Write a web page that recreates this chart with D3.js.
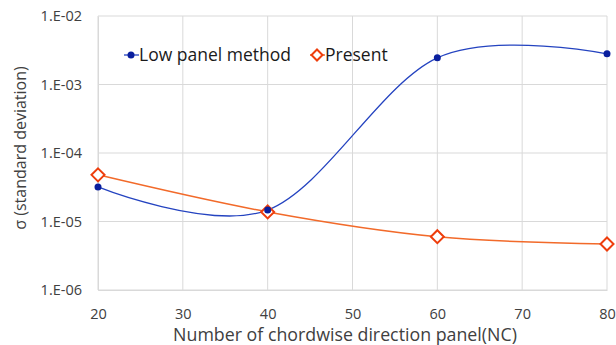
<!DOCTYPE html>
<html>
<head>
<meta charset="utf-8">
<script src="https://cdn.jsdelivr.net/npm/d3@7"></script>
<style>
  html, body { margin: 0; padding: 0; background: #fff; }
  svg { display: block; font-family: "Open Sans", "Noto Sans", sans-serif; }
</style>
</head>
<body>
<svg id="chart" width="616" height="345"></svg>
<script>
// Panel counts along the chord
const panels = [20, 40, 60, 80];
// Standard deviation for each method
const lowPanel = [3.2e-5, 1.47e-5, 2.45e-3, 2.8e-3];
const present = [4.8e-5, 1.38e-5, 6.0e-6, 4.7e-6];
const xTicks = [20, 30, 40, 50, 60, 70, 80];
const yTicks = [1e-6, 1e-5, 1e-4, 1e-3, 1e-2];
const yTickLabels = ["1.E-06", "1.E-05", "1.E-04", "1.E-03", "1.E-02"];

const svg = d3.select("#chart");
const m = { left: 98, right: 607, top: 16, bottom: 290 };

const x = d3.scaleLinear().domain([20, 80]).range([m.left, m.right]);
const y = d3.scaleLog().domain([1e-6, 1e-2]).range([m.bottom, m.top]);

// grid
svg.append("g").selectAll("line.h").data(yTicks).join("line")
  .attr("x1", m.left).attr("x2", m.right)
  .attr("y1", d => y(d)).attr("y2", d => y(d))
  .attr("stroke", "#d9d9d9").attr("stroke-width", 1);
svg.append("g").selectAll("line.v").data(xTicks).join("line")
  .attr("x1", d => x(d)).attr("x2", d => x(d))
  .attr("y1", m.top).attr("y2", m.bottom)
  .attr("stroke", "#d9d9d9").attr("stroke-width", 1);

// axes
const xAxis = svg.append("g").attr("transform", `translate(0,${m.bottom})`)
  .call(d3.axisBottom(x).tickValues(xTicks).tickSize(0).tickPadding(19));
xAxis.select(".domain").attr("stroke", "#d9d9d9");
xAxis.selectAll("text").attr("font-size", 14.5).attr("fill", "#404040")
  .attr("font-family", "Open Sans");

const yAxis = svg.append("g").attr("transform", `translate(${m.left},0)`)
  .call(d3.axisLeft(y).tickValues(yTicks).tickSize(0).tickPadding(16)
    .tickFormat((d, i) => yTickLabels[i]));
yAxis.select(".domain").attr("stroke", "#d9d9d9");
yAxis.selectAll("text").attr("font-size", 14.5).attr("fill", "#404040")
  .attr("font-family", "Open Sans");

// axis titles
svg.append("text").attr("x", 345).attr("y", 341)
  .attr("text-anchor", "middle").attr("font-size", 17.8).attr("fill", "#404040")
  .text("Number of chordwise direction panel(NC)");
svg.append("text").attr("transform", `translate(26,148) rotate(-90)`)
  .attr("text-anchor", "middle").attr("font-size", 16).attr("fill", "#404040")
  .text("σ (standard deviation)");

const line = d3.line().x(d => x(d[0])).y(d => y(d[1])).curve(d3.curveCardinal.tension(0));

const blueLine = "#2443c0", blueMark = "#0a1f9e";
const orange = "#ee3d0c";

const lowData = panels.map((p, i) => [p, lowPanel[i]]);
const presData = panels.map((p, i) => [p, present[i]]);

svg.append("path").datum(presData).attr("d", line)
  .attr("fill", "none").attr("stroke", "#f26a2a").attr("stroke-width", 1.5);
svg.append("path").datum(lowData).attr("d", line)
  .attr("fill", "none").attr("stroke", blueLine).attr("stroke-width", 1.3);

const diamond = s => `M0,${-s}L${s},0L0,${s}L${-s},0Z`;

svg.append("g").selectAll("path").data(presData).join("path")
  .attr("transform", d => `translate(${x(d[0])},${y(d[1])})`)
  .attr("d", diamond(6.5))
  .attr("fill", "#fff").attr("stroke", orange).attr("stroke-width", 2);
svg.append("g").selectAll("circle").data(lowData).join("circle")
  .attr("cx", d => x(d[0])).attr("cy", d => y(d[1])).attr("r", 3.5)
  .attr("fill", blueMark);

// legend
const lg = svg.append("g").attr("transform", "translate(0,55)");
lg.append("line").attr("x1", 124).attr("x2", 139).attr("stroke", blueLine).attr("stroke-width", 1.3);
lg.append("circle").attr("cx", 131).attr("cy", 0).attr("r", 3.5).attr("fill", blueMark);
lg.append("text").attr("x", 139).attr("y", 6).attr("font-size", 17.5).attr("fill", "#1a1a1a")
  .text("Low panel method");
lg.append("line").attr("x1", 310).attr("x2", 325).attr("stroke", "#f26a2a").attr("stroke-width", 1.5);
lg.append("path").attr("transform", "translate(317,0)").attr("d", diamond(5.5))
  .attr("fill", "#fff").attr("stroke", orange).attr("stroke-width", 2);
lg.append("text").attr("x", 325).attr("y", 6).attr("font-size", 17.5).attr("fill", "#1a1a1a")
  .text("Present");
</script>
</body>
</html>
